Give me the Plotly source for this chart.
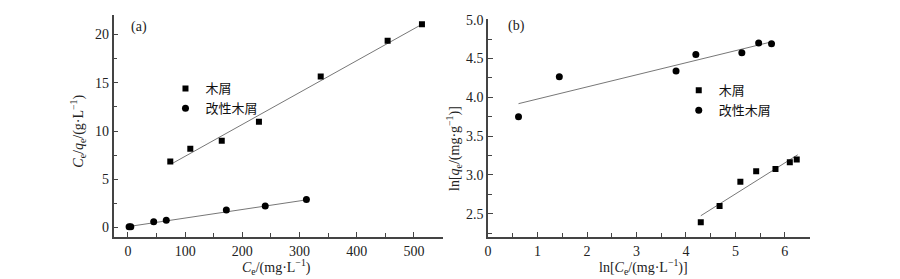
import plotly.graph_objects as go

# ---------- data: panel (a)  Ce/qe vs Ce ----------
a_wood_x = [74, 109, 164, 229, 337, 454, 514]
a_wood_y = [6.83, 8.17, 9.0, 10.96, 15.66, 19.36, 21.07]
a_mod_x = [2, 5, 45, 67, 172, 240, 312]
a_mod_y = [0.07, 0.08, 0.6, 0.74, 1.81, 2.22, 2.89]
a_wood_fit_x = [77, 515]
a_wood_fit_y = [6.62, 21.1]
a_mod_fit_x = [5, 312]
a_mod_fit_y = [0.13, 2.86]

# ---------- data: panel (b)  ln qe vs ln Ce ----------
b_wood_x = [4.30, 4.68, 5.10, 5.42, 5.81, 6.10, 6.24]
b_wood_y = [2.39, 2.60, 2.914, 3.047, 3.077, 3.165, 3.20]
b_mod_x = [0.615, 1.44, 3.80, 4.20, 5.13, 5.47, 5.73]
b_mod_y = [3.749, 4.264, 4.34, 4.55, 4.574, 4.70, 4.69]
b_wood_fit_x = [4.30, 6.26]
b_wood_fit_y = [2.475, 3.26]
b_mod_fit_x = [0.615, 5.72]
b_mod_fit_y = [3.918, 4.712]

names = ["木屑", "改性木屑"]

x_ticks_a = [0, 100, 200, 300, 400, 500]
y_ticks_a = [0, 5, 10, 15, 20]
x_ticks_b = [0, 1, 2, 3, 4, 5, 6]
y_ticks_b = [2.5, 3.0, 3.5, 4.0, 4.5, 5.0]

SERIF = "Liberation Serif, Times New Roman, serif"
CJK = "Noto Sans CJK SC"
AXC = "#444444"
FITC = "#777777"

fig = go.Figure()

# fit lines
for fx, fy, xa, ya in [(a_wood_fit_x, a_wood_fit_y, "x", "y"),
                       (a_mod_fit_x, a_mod_fit_y, "x", "y"),
                       (b_wood_fit_x, b_wood_fit_y, "x2", "y2"),
                       (b_mod_fit_x, b_mod_fit_y, "x2", "y2")]:
    fig.add_trace(go.Scatter(x=fx, y=fy, mode="lines", xaxis=xa, yaxis=ya,
                             line=dict(color=FITC, width=1), showlegend=False,
                             hoverinfo="skip"))

# markers panel (a)
fig.add_trace(go.Scatter(x=a_wood_x, y=a_wood_y, mode="markers", name=names[0],
                         marker=dict(symbol="square", size=6, color="black"),
                         xaxis="x", yaxis="y", legend="legend"))
fig.add_trace(go.Scatter(x=a_mod_x, y=a_mod_y, mode="markers", name=names[1],
                         marker=dict(symbol="circle", size=7, color="black"),
                         xaxis="x", yaxis="y", legend="legend"))
# markers panel (b)
fig.add_trace(go.Scatter(x=b_wood_x, y=b_wood_y, mode="markers", name=names[0],
                         marker=dict(symbol="square", size=6, color="black"),
                         xaxis="x2", yaxis="y2", legend="legend2"))
fig.add_trace(go.Scatter(x=b_mod_x, y=b_mod_y, mode="markers", name=names[1],
                         marker=dict(symbol="circle", size=7, color="black"),
                         xaxis="x2", yaxis="y2", legend="legend2"))

# page body has an 8px default margin: size the figure so it fits the window
OFF = 8
W, H = 900 - OFF, 279 - OFF


def px_x(p):
    return (p - OFF) / W


def px_y(p):
    return 1 - (p - OFF) / H


def axis_common(**kw):
    d = dict(showline=True, linecolor=AXC, linewidth=1.6, showgrid=False,
             zeroline=False, ticks="inside", ticklen=5, tickwidth=1.3,
             tickcolor=AXC, mirror=False, ticklabeloverflow="allow",
             tickfont=dict(family=SERIF, size=14, color="#222222"))
    d.update(kw)
    return d


fig.update_layout(
    width=W, height=H, margin=dict(l=0, r=0, t=0, b=0),
    paper_bgcolor="white", plot_bgcolor="white",
    xaxis=axis_common(domain=[px_x(111), px_x(441)], range=[-25, 550],
                      tickvals=x_ticks_a, anchor="y",
                      minor=dict(ticks="inside", ticklen=4, dtick=50, tick0=0,
                                 tickcolor=AXC, tickwidth=1.3)),
    yaxis=axis_common(domain=[px_y(236), px_y(8.3)], range=[-1, 22],
                      tickvals=y_ticks_a, anchor="x",
                      minor=dict(ticks="inside", ticklen=4, dtick=2.5, tick0=0,
                                 tickcolor=AXC, tickwidth=1.3)),
    xaxis2=axis_common(domain=[px_x(486.7), px_x(809.3)], range=[0, 6.5],
                       tickvals=x_ticks_b, anchor="y2",
                       minor=dict(ticks="inside", ticklen=4, dtick=0.5, tick0=0,
                                  tickcolor=AXC, tickwidth=1.3)),
    yaxis2=axis_common(domain=[px_y(236), px_y(12.5)], range=[2.2, 5.003],
                       tickvals=y_ticks_b, ticktext=[f"{v:.1f}" for v in y_ticks_b],
                       anchor="x2",
                       minor=dict(ticks="inside", ticklen=4, dtick=0.25, tick0=2.5,
                                  tickcolor=AXC, tickwidth=1.3)),
    legend=dict(x=px_x(163), y=px_y(68), xanchor="left", yanchor="top",
                bgcolor="rgba(0,0,0,0)", font=dict(family=CJK, size=13, color="#111111"),
                tracegroupgap=0),
    legend2=dict(x=px_x(678), y=px_y(70), xanchor="left", yanchor="top",
                 bgcolor="rgba(0,0,0,0)", font=dict(family=CJK, size=13, color="#111111"),
                 tracegroupgap=0),
    showlegend=True,
)

ann_font = dict(family=SERIF, size=14, color="#222222")
annotations = [
    dict(text="<i>C</i><sub>e</sub>/(mg·L<sup>−1</sup>)", x=px_x(274), y=px_y(267)),
    dict(text="<i>C</i><sub>e</sub>/<i>q</i><sub>e</sub>/(g·L<sup>−1</sup>)",
         x=px_x(75), y=px_y(127), textangle=-90),
    dict(text="ln[<i>C</i><sub>e</sub>/(mg·L<sup>−1</sup>)]", x=px_x(643), y=px_y(267)),
    dict(text="ln[<i>q</i><sub>e</sub>/(mg·g<sup>−1</sup>)]",
         x=px_x(453), y=px_y(145), textangle=-90),
    dict(text="(a)", x=px_x(136), y=px_y(20)),
    dict(text="(b)", x=px_x(515), y=px_y(19)),
]
for a in annotations:
    fig.add_annotation(xref="paper", yref="paper", showarrow=False,
                       xanchor="center", yanchor="middle", font=ann_font, **a)

fig.write_html("out.html")
